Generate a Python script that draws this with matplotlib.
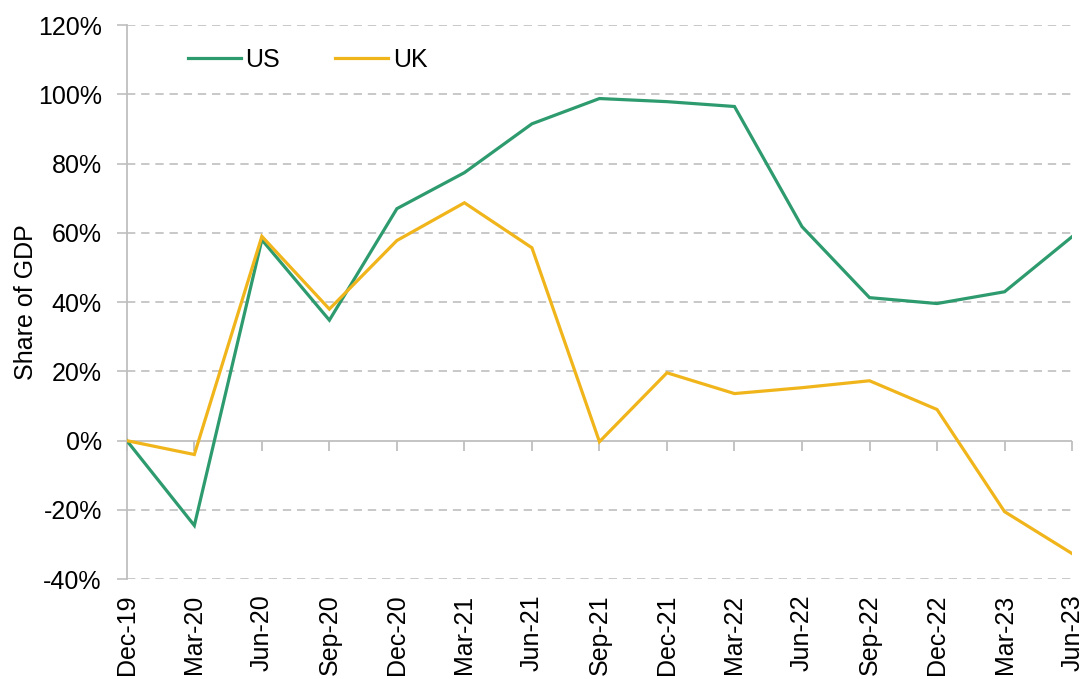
import matplotlib
matplotlib.use("Agg")
import matplotlib.pyplot as plt

plt.rcParams['font.family'] = ['Liberation Sans', 'DejaVu Sans']

categories = ["Dec-19", "Mar-20", "Jun-20", "Sep-20", "Dec-20", "Mar-21", "Jun-21",
              "Sep-21", "Dec-21", "Mar-22", "Jun-22", "Sep-22", "Dec-22", "Mar-23", "Jun-23"]
us = [0, -24.5, 58, 34.8, 67, 77.4, 91.5, 98.8, 97.9, 96.5, 61.8, 41.3, 39.6, 43, 58.9]
uk = [0, -4, 59, 38, 57.8, 68.7, 55.7, -0.3, 19.6, 13.6, 15.3, 17.3, 9, -20.5, -32.6]
yticks = [-40, -20, 0, 20, 40, 60, 80, 100, 120]

GREEN = '#2E9B6F'
YELLOW = '#F1B51C'
GRID = '#BFBFBF'
FS = 18

fig = plt.figure(figsize=(10.84, 6.79), dpi=100)
ax = fig.add_axes([0.117, 0.147, 0.872, 0.816])

x = list(range(len(categories)))
ax.plot(x, us, color=GREEN, lw=2.3, label='US', solid_joinstyle='miter', zorder=3)
ax.plot(x, uk, color=YELLOW, lw=2.3, label='UK', solid_joinstyle='miter', zorder=3)

ax.set_xlim(0, len(categories) - 1)
ax.set_ylim(-40, 120)
ax.set_yticks(yticks)
ax.set_yticklabels([f"{v}%" for v in yticks], fontsize=FS, color='#000000')
for v in yticks:
    if v != 0:
        ax.axhline(v, color=GRID, lw=1.2, ls=(0, (5, 3.5)), zorder=1)
ax.axhline(0, color=GRID, lw=1.3, zorder=2)

ax.set_xticks(x)
ax.set_xticklabels(categories, rotation=90, fontsize=FS)
ax.tick_params(axis='x', length=0, pad=11)
ax.tick_params(axis='y', length=7, color=GRID, width=1.2, pad=11)

for s in ['top', 'right', 'bottom']:
    ax.spines[s].set_visible(False)
ax.spines['left'].set_color(GRID)
ax.spines['left'].set_linewidth(1.3)

sec = ax.secondary_xaxis(0.25)
sec.set_xticks(x)
sec.set_xticklabels([])
sec.tick_params(axis='x', length=7, color=GRID, width=1.3, direction='out')
sec.spines['bottom'].set_visible(False)

ax.set_ylabel("Share of GDP", fontsize=FS, labelpad=0)

ax.legend(loc='upper left', bbox_to_anchor=(0.041, 0.999), ncol=2, frameon=False,
          fontsize=FS, handlelength=2.1, handletextpad=0.2, columnspacing=2.2)

fig.savefig("out.png", dpi=100)
